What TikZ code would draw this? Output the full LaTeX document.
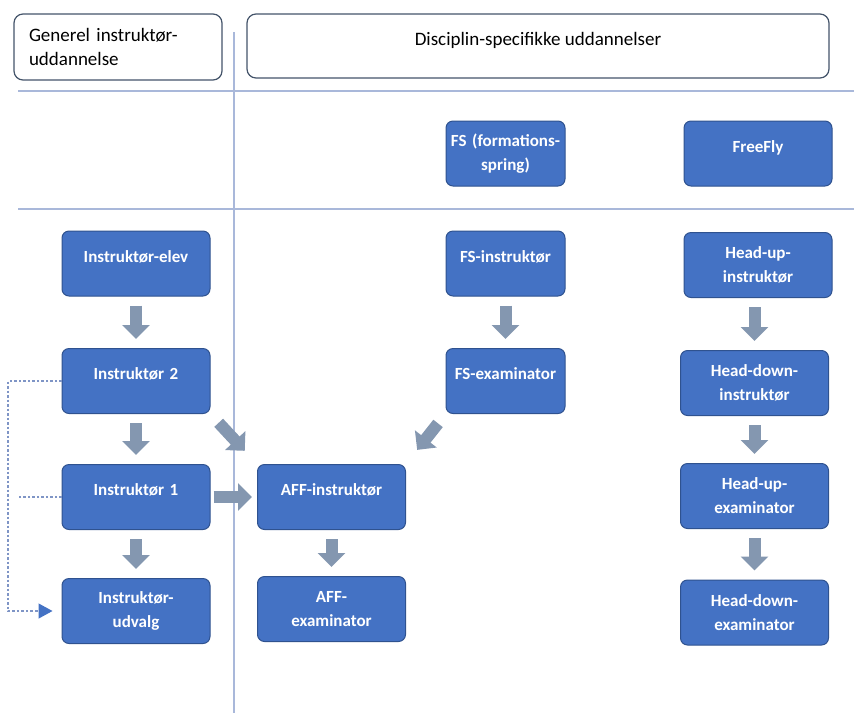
\documentclass[tikz,border=0pt]{standalone}
\usepackage{fontspec}
\setmainfont{Carlito}
\usetikzlibrary{arrows.meta,calc}
\definecolor{boxblue}{HTML}{4472C4}
\definecolor{boxline}{HTML}{2F528F}
\definecolor{arrgray}{HTML}{8497B0}
\definecolor{sepline}{HTML}{A9B8DA}
\definecolor{hdline}{HTML}{44546A}
\definecolor{dashblue}{HTML}{7F95C6}
\begin{document}
\begin{tikzpicture}[x=1pt,y=-1pt,font=\fontsize{19}{24}\selectfont,
    kasse/.style={draw=boxline,line width=1pt,fill=boxblue,rounded corners=7pt,text=white,
      font=\fontsize{17}{24}\selectfont\bfseries,
      align=center,minimum width=148pt,minimum height=65pt,text width=144pt,inner sep=0pt},
    smal/.style={minimum width=119pt,text width=116pt},
    enlinje/.style={text depth=14pt},
    hoved/.style={draw=hdline,line width=1.2pt,rounded corners=9pt,fill=white,inner sep=0pt},
    blok/.style={arrgray,line width=12pt,-{Triangle[width=27pt,length=14pt]}},
    ned/.style={blok,shorten <=9pt,shorten >=9pt},
    skraa/.style={blok,shorten <=12pt,shorten >=18pt},
    stiplet/.style={dashblue,line width=1.2pt,dash pattern=on 2.5pt off 2pt,
      -{Triangle[width=15pt,length=14pt,color=boxblue]},shorten >=9pt}]
  \useasboundingbox(0,0)rectangle(854,713);
  \draw[sepline,line width=1.5pt](18,91)--(854,91) (18,209)--(854,209);
  \draw[sepline,line width=1.5pt](234,32)--(234,713);
  \node[hoved,minimum width=208pt,minimum height=66pt,text width=178pt,align=left](gen)at(118,47)
    {Generel instruktør-\\uddannelse};
  \node[hoved,enlinje,minimum width=582pt,minimum height=64pt](disc)at(538,46)
    {Disciplin-specifikke uddannelser};
  \node[kasse,enlinje](elev)at(136,263.5){Instruktør-elev};
  \node[kasse,enlinje](in2)at(136,381){Instruktør 2};
  \node[kasse,enlinje](in1)at(136,497){Instruktør 1};
  \node[kasse](udv)at(136,611){Instruktør-\\udvalg};
  \node[kasse,enlinje](aff)at(331.5,497){AFF-instruktør};
  \node[kasse](affex)at(331.5,609){AFF-\\examinator};
  \node[kasse,smal](fs)at(505.5,153.5){FS (formations-\\spring)};
  \node[kasse,smal,enlinje](fsin)at(505.5,263.5){FS-instruktør};
  \node[kasse,smal,enlinje](fsex)at(505.5,381){FS-examinator};
  \node[kasse,enlinje](ff)at(758,153.5){FreeFly};
  \node[kasse](huin)at(758,265){Head-up-\\instruktør};
  \node[kasse](hdin)at(754.5,383){Head-down-\\instruktør};
  \node[kasse](huex)at(754.5,496){Head-up-\\examinator};
  \node[kasse](hdex)at(754.5,612.5){Head-down-\\examinator};
  \draw[ned](elev)--(in2);
  \draw[ned](in2)--(in1);
  \draw[ned](in1)--(udv);
  \draw[ned](aff)--(affex);
  \draw[ned](fsin)--(fsex);
  \draw[ned](huin.south-|hdin)--(hdin);
  \draw[ned](hdin)--(huex);
  \draw[ned](huex)--(hdex);
  \draw[blok,shorten <=3pt,shorten >=5pt](in1.east)--(aff.west);
  \draw[skraa](in2.south east)--(aff.north west);
  \draw[skraa](fsex.south west)--(aff.north east);
  \coordinate(rail)at(8,0);
  \draw[stiplet](in2.west)--(in2.west-|rail)|-(udv.west);
  \draw[stiplet,-](in1.west)--(in1.west-|rail);
\end{tikzpicture}
\end{document}
